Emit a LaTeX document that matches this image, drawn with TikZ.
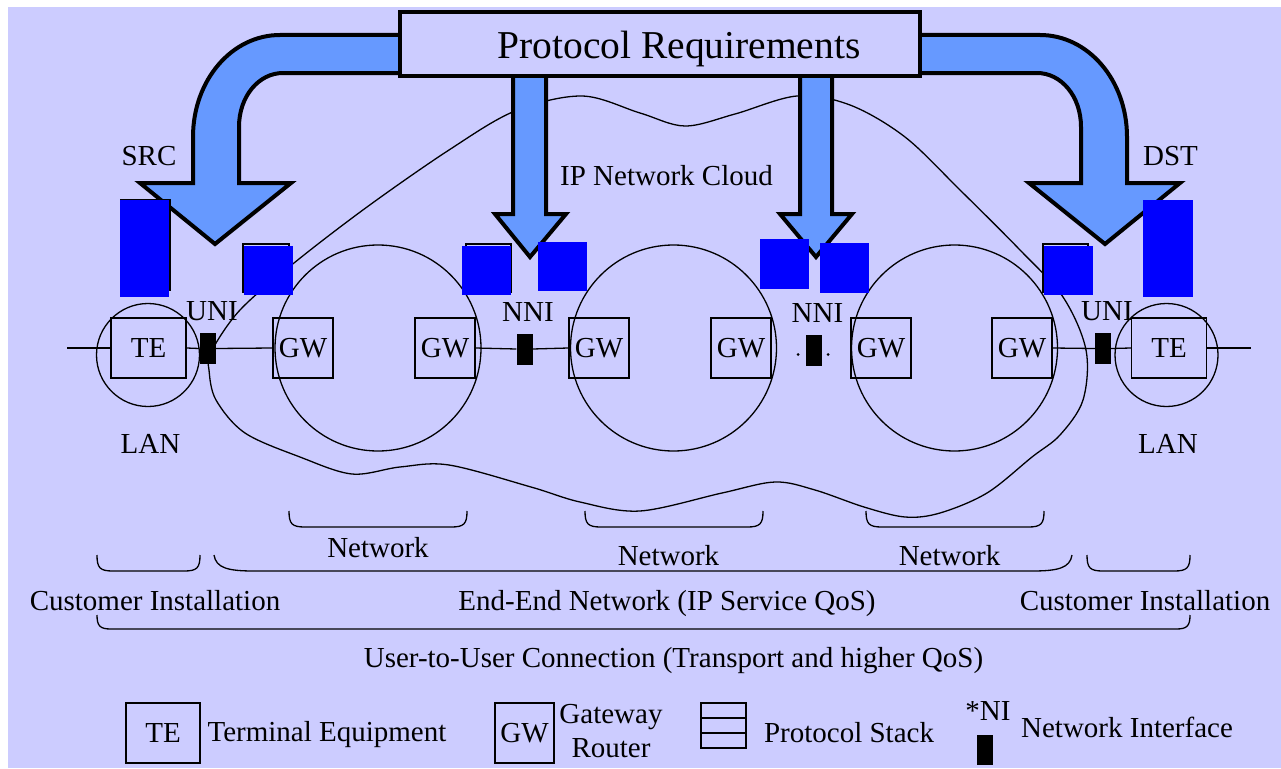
\documentclass[tikz,border=0pt]{standalone}
\usepackage{fontspec}
\setmainfont{Liberation Serif}
\definecolor{bgc}{HTML}{CCCCFF}
\definecolor{arrc}{HTML}{6699FF}
\definecolor{bluec}{HTML}{0000FF}
\newcommand\lblfont{\fontsize{29}{34}\selectfont}
\newcommand\ttlfont{\fontsize{39.5}{46}\selectfont}
\tikzset{
  thinln/.style={line width=1.3pt},
  lbl/.style={font=\lblfont, inner sep=0pt, anchor=base},
  gwbox/.style={draw, line width=1.3pt, minimum width=60pt, minimum height=60pt, inner sep=0pt, font=\lblfont},
  tebox/.style={draw, line width=1.3pt, minimum width=75pt, minimum height=60pt, inner sep=0pt, font=\lblfont},
  nibox/.style={fill=black, minimum width=16pt, minimum height=31pt, inner sep=0pt},
  netcirc/.style={draw, circle, line width=1.3pt, minimum size=206pt, inner sep=0pt},
  lancirc/.style={draw, circle, line width=1.3pt, minimum size=103pt, inner sep=0pt},
  bigarrow/.style={fill=arrc, draw=black, line width=4pt, line join=miter},
  bluesq/.style={fill=bluec, inner sep=0pt},
  stackol/.style={draw=black, line width=1.2pt, inner sep=0pt},
}
\begin{document}
\begin{tikzpicture}[x=1pt,y=-1pt]
\useasboundingbox (0,0) rectangle (1281,768);
\fill[bgc] (8,7) rectangle (1281,768);

% IP network cloud
\draw[thinln] plot[smooth cycle, tension=0.55] coordinates {
 (211,352) (240,310) (294,263) (367,207) (449,150) (515,111) (582,96)
 (640,113) (685,126) (735,114) (797,96) (850,105) (905,137) (960,190)
 (1020,250) (1063,297) (1086,350) (1083,400) (1060,435) (1032,457)
 (987,493) (940,513) (905,517) (864,507) (815,490) (775,482) (722,493)
 (640,511) (580,502) (531,487) (449,465) (400,467) (352,474) (300,457)
 (245,433) (216,400) (209,370)};

% network circles and LAN circles
\node[netcirc] (net1) at (378,348) {};
\node[netcirc] (net2) at (673.5,348) {};
\node[netcirc] (net3) at (954.5,348) {};
\node[lancirc] (lan1) at (148,355) {};
\node[lancirc] (lan2) at (1166.5,355) {};

% boxes
\node[tebox] (te1) at (148.5,348) {TE};
\node[tebox] (te2) at (1169,348) {TE};
\node[gwbox] (gw1) at (303,348) {GW};
\node[gwbox] (gw2) at (445,348) {GW};
\node[gwbox] (gw3) at (599,348) {GW};
\node[gwbox] (gw4) at (741,348) {GW};
\node[gwbox] (gw5) at (881,348) {GW};
\node[gwbox] (gw6) at (1022,348) {GW};
\node[nibox] (uni1) at (207.5,348.5) {};
\node[nibox] (nni1) at (524.5,349) {};
\node[nibox] (nni2) at (813.5,350) {};
\node[nibox] (uni2) at (1103,348.5) {};
\fill (798,354.5) circle[radius=1.5];
\fill (828,354.5) circle[radius=1.5];

\coordinate (lend) at (67,348);
\coordinate (rend) at (1251,348);
\draw[thinln] (lend) -- (te1.west);
\draw[thinln] (te1.east) -- (uni1.west);
\draw[thinln] (uni1.east) -- (gw1.west);
\draw[thinln] (gw2.east) -- (nni1.west);
\draw[thinln] (nni1.east) -- (gw3.west);
\draw[thinln] (gw6.east) -- (uni2.west);
\draw[thinln] (uni2.east) -- (te2.west);
\draw[thinln] (te2.east) -- (rend);

% arrows
\draw[bigarrow] (420,35) -- (280,35) .. controls (232,35) and (193,80) .. (193,137)
  -- (193,183) -- (140,183) -- (215,244) -- (291,183) -- (239,183) -- (239,127)
  .. controls (239,96) and (259,73) .. (283,73) -- (420,73) -- cycle;
\draw[bigarrow] (900,35) -- (1040,35) .. controls (1088,35) and (1127,80) .. (1127,137)
  -- (1127,183) -- (1180,183) -- (1105,244) -- (1029,183) -- (1081,183) -- (1081,127)
  .. controls (1081,96) and (1061,73) .. (1037,73) -- (900,73) -- cycle;
\draw[bigarrow] (513,60) -- (513,214) -- (495,214) -- (530,257) -- (566,214) -- (546,214) -- (546,60) -- cycle;
\draw[bigarrow] (800,60) -- (800,214) -- (780,214) -- (816,257) -- (852,214) -- (832,214) -- (832,60) -- cycle;

% title box
\node[draw, line width=4pt, line join=miter, fill=bgc, minimum width=520pt, minimum height=64pt, inner sep=0pt] (req) at (660,44) {};
\node[font=\ttlfont, inner sep=0pt, anchor=base] (reqtxt) at (679,59) {Protocol Requirements};

% protocol stacks
\node[stackol, minimum width=49pt, minimum height=90pt] (olA) at (145.5,245) {};
\node[stackol, minimum width=46pt, minimum height=48pt] (olB) at (266,268) {};
\node[stackol, minimum width=45pt, minimum height=48pt] (olC) at (488.5,268) {};
\node[stackol, minimum width=45pt, minimum height=48pt] (olD) at (1065.5,268) {};
\node[bluesq, minimum width=49pt, minimum height=97pt] (psA) at (144.5,248.5) {};
\node[bluesq, minimum width=50pt, minimum height=97pt] (psB) at (1168,248.5) {};
\node[bluesq, minimum width=49pt, minimum height=49pt] (ps1) at (268.5,270.5) {};
\node[bluesq, minimum width=49pt, minimum height=49pt] (ps2) at (486.5,270.5) {};
\node[bluesq, minimum width=49pt, minimum height=49pt] (ps3) at (562.5,266.5) {};
\node[bluesq, minimum width=49pt, minimum height=50pt] (ps4) at (784.5,264) {};
\node[bluesq, minimum width=49pt, minimum height=50pt] (ps5) at (844.5,268) {};
\node[bluesq, minimum width=49pt, minimum height=49pt] (ps6) at (1068.5,270.5) {};

% labels
\node[lbl] (src) at (149,165) {SRC};
\node[lbl] (dst) at (1170.5,165) {DST};
\node[lbl] (cloud) at (666.5,185) {IP Network Cloud};
\node[lbl] (unil1) at (212,320) {UNI};
\node[lbl] (nnil1) at (528,321) {NNI};
\node[lbl] (nnil2) at (817.5,322) {NNI};
\node[lbl] (unil2) at (1107,320) {UNI};
\node[lbl] (lanl1) at (150.5,453) {LAN};
\node[lbl] (lanl2) at (1168,453) {LAN};

% braces
\draw[thinln] (289,511) .. controls (289,524) and (292,527) .. (305,527) -- (451,527) .. controls (464,527) and (467,524) .. (467,511);
\draw[thinln] (585,511) .. controls (585,524) and (588,527) .. (601,527) -- (747,527) .. controls (760,527) and (763,524) .. (763,511);
\draw[thinln] (866,511) .. controls (866,524) and (869,527) .. (882,527) -- (1028,527) .. controls (1041,527) and (1044,524) .. (1044,511);
\draw[thinln] (97,555) .. controls (97,568) and (100,571) .. (113,571) -- (184,571) .. controls (197,571) and (200,568) .. (200,555);
\draw[thinln] (1087,555) .. controls (1087,568) and (1090,571) .. (1103,571) -- (1174,571) .. controls (1187,571) and (1190,568) .. (1190,555);
\draw[thinln] (214,555) .. controls (216,568) and (228,571) .. (254,571) -- (1032,571) .. controls (1058,571) and (1070,568) .. (1072,555);
\draw[thinln] (97,615) .. controls (97,626) and (100,629) .. (111,629) -- (1176,629) .. controls (1187,629) and (1190,626) .. (1190,615);

\node[lbl] (netl1) at (378,557) {Network};
\node[lbl] (netl2) at (668.5,565) {Network};
\node[lbl] (netl3) at (949.5,565) {Network};
\node[lbl] (cil) at (155,610) {Customer Installation};
\node[lbl] (eel) at (667,610) {End-End Network (IP Service QoS)};
\node[lbl] (cir) at (1145,610) {Customer Installation};
\node[lbl] (uul) at (673.5,667) {User-to-User Connection (Transport and higher QoS)};

% legend
\node[tebox, minimum width=74pt] (lgte) at (163,733) {TE};
\node[lbl] (lgtet) at (327,741) {Terminal Equipment};
\node[gwbox, minimum width=59pt] (lggw) at (524.5,733) {GW};
\node[lbl] (lggw1) at (611,723) {Gateway};
\node[lbl] (lggw2) at (611,757) {Router};
\node[draw, line width=1.3pt, minimum width=45pt, minimum height=45pt, inner sep=0pt] (lgps) at (723.5,725.5) {};
\draw[thinln] (lgps.west |- 0,718) -- (lgps.east |- 0,718);
\draw[thinln] (lgps.west |- 0,733) -- (lgps.east |- 0,733);
\node[lbl] (lgpst) at (849,742) {Protocol Stack};
\node[lbl] (lgni) at (988,720) {*NI};
\node[nibox, minimum height=30pt] (lgnir) at (985,750) {};
\node[lbl] (lgnit) at (1127,737) {Network Interface};
\end{tikzpicture}
\end{document}
